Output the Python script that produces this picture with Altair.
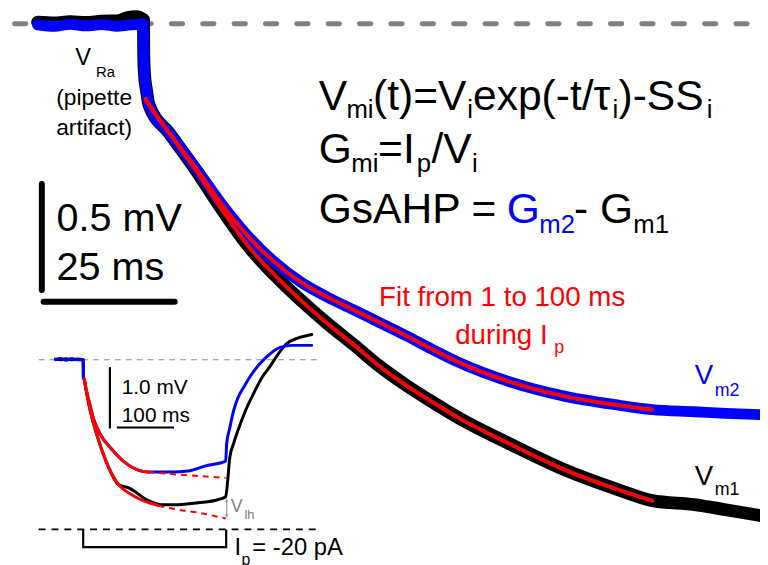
import altair as alt
import pandas as pd

# ===================== DATA =====================
# Main panel: time in ms from the step onset, voltage in mV from rest
pre_t = [-20.2, -17, -14, -11, -8, -5, -3, -1.5, 0.0]
blue_pre_v = [-0.005, -0.012, -0.002, -0.010, -0.004, -0.012, -0.006, -0.004, 0.0]
black_pre_v = [0.008, 0.004, 0.010, 0.006, 0.012, 0.014, 0.030, 0.034, 0.02]
drop_t = [0.02, 0.15, 0.6]
drop_v = [-0.12, -0.23, -0.32]
fit_t = [0.4, 1, 5, 10, 15, 20, 25, 30, 35, 40, 45, 50, 55, 60, 70, 80, 90, 97]
blue_fit_v = [-0.355, -0.38, -0.519, -0.682, -0.855, -1.005, -1.126, -1.220, -1.290,
              -1.350, -1.411, -1.472, -1.537, -1.598, -1.692, -1.757, -1.799, -1.822]
black_fit_v = [-0.355, -0.38, -0.519, -0.692, -0.879, -1.051, -1.187, -1.306, -1.414,
               -1.514, -1.617, -1.706, -1.785, -1.860, -1.986, -2.103, -2.196, -2.252]
tail_t = [105, 111, 117.5]
blue_tail_v = [-1.832, -1.840, -1.846]
black_tail_v = [-2.271, -2.295, -2.322]
ref_t = [-24.62, 118.0]
ref_v = [0.0, 0.0]

# Inset: time in ms from the onset of Ip, voltage in mV from rest
in_pre_t = [-48.4, -40, -30, -20, -10, 0.0]
in_blue_pre_v = [0.0, 0.02, -0.01, 0.02, 0.0, 0.0]
in_black_pre_v = [0.01, 0.0, 0.015, 0.0, 0.01, 0.0]
in_drop_t = [0.3]
in_drop_v = [-0.30]
in_blue_fit_t = [1.7, 5, 10.4, 19, 31.1, 48.4, 74.4, 102.1, 114.2]
in_blue_fit_v = [-0.315, -0.48, -0.685, -0.99, -1.234, -1.444, -1.685, -1.815, -1.831]
in_blue_ext_t = [114.2, 154.0, 200.7, 249.1]
in_blue_ext_v = [-1.831, -1.863, -1.895, -1.927]
in_black_fit_t = [1.7, 5, 10.4, 24.2, 39.8, 62.3, 84.8, 114.2, 131.5]
in_black_fit_v = [-0.315, -0.49, -0.750, -1.234, -1.653, -2.040, -2.202, -2.331, -2.379]
in_black_ext_t = [131.5, 166.1, 200.7, 249.1]
in_black_ext_v = [-2.379, -2.444, -2.492, -2.589]
in_blue_late_t = [154.0, 183.4, 212.8, 249.1, 250.9, 256.1, 263.0, 269.9, 282.0, 292.4,
                  308.0, 321.8, 344.3, 365.1, 399.7]
in_blue_late_v = [-1.83, -1.815, -1.734, -1.653, -1.363, -1.121, -0.831, -0.637, -0.427,
                  -0.266, -0.073, 0.056, 0.202, 0.234, 0.234]
in_black_late_t = [79.6, 114.2, 136.7, 166.1, 200.7, 235.3, 249.1, 252.6, 256.1, 263.0,
                   269.9, 283.7, 299.3, 313.1, 327.0, 344.3, 356.4, 373.7, 399.7]
in_black_late_v = [-2.089, -2.298, -2.363, -2.363, -2.331, -2.282, -2.234, -1.976, -1.605,
                   -1.363, -1.169, -0.831, -0.524, -0.282, -0.105, 0.137, 0.266, 0.347, 0.411]
in_line_t = [-77.9, 417.0]
in_rest_v = [0.0, 0.0]
in_cmd_v = [-2.766, -2.766]
ip_t = [0.0, 0.0, 250.0, 250.0]
ip_v = [-2.766, -3.056, -3.056, -2.766]
vlh_t = [250.9, 250.9]
vlh_v = [-2.29, -2.55]

# scale bars
main_vbar_t, main_vbar_v = [-19.4, -19.4], [-1.257, -0.757]      # 0.5 mV
main_hbar_t, main_hbar_v = [-19.06, 5.94], [-1.313, -1.313]      # 25 ms
in_vbar_t, in_vbar_v = [46.7, 46.7], [-1.121, -0.121]            # 1.0 mV
in_hbar_t, in_hbar_v = [58.8, 158.8], [-1.105, -1.105]           # 100 ms

BLACK, BLUE, RED, GRAY = "#000000", "#0000ff", "#ff0000", "#808080"
FONT = "Liberation Sans"

# annotations: text, t, v, size, color
main_left_text = [
    ("V", -13.02, -0.196, 24, BLACK), ("Ra", -9.06, -0.252, 15, BLACK),
    ("0.5 mV", -16.6, -0.977, 40, BLACK), ("25 ms", -16.6, -1.210, 40, BLACK),
    ("V", 33.40, -0.4065, 43, BLACK), ("mi", 38.68, -0.446, 26, BLACK),
    ("(t)=V", 43.77, -0.4065, 43, BLACK), ("i", 61.70, -0.446, 26, BLACK),
    ("exp(-t/τ", 62.83, -0.4065, 43, BLACK), ("i", 89.43, -0.446, 26, BLACK),
    (")-SS", 90.57, -0.4065, 43, BLACK), ("i", 107.4, -0.446, 26, BLACK),
    ("G", 33.40, -0.659, 43, BLACK), ("mi", 39.62, -0.701, 26, BLACK),
    ("=I", 44.72, -0.659, 43, BLACK), ("p", 52.08, -0.701, 26, BLACK),
    ("/V", 54.91, -0.659, 43, BLACK), ("i", 62.64, -0.701, 26, BLACK),
    ("GsAHP = ", 33.40, -0.939, 43, BLACK), ("G", 69.25, -0.939, 43, BLUE),
    ("m2", 75.47, -0.986, 26, BLUE), ("- G", 82.08, -0.939, 43, BLACK),
    ("m1", 93.40, -0.986, 26, BLACK),
    ("Fit from 1 to 100 ms", 44.91, -1.332, 28, RED), ("during I", 59.43, -1.514, 28, RED),
    ("p", 78.3, -1.556, 18, RED),
    ("V", 105.1, -1.701, 28, BLUE), ("m2", 108.9, -1.757, 18, BLUE),
    ("V", 105.1, -2.178, 28, BLACK), ("m1", 108.9, -2.224, 18, BLACK),
]
main_center_text = [
    ("(pipette", -9.43, -0.383, 23, BLACK), ("artifact)", -9.43, -0.523, 23, BLACK),
]
inset_text = [
    ("1.0 mV", 67.5, -0.556, 21, BLACK), ("100 ms", 67.5, -1.008, 21, BLACK),
    ("V", 257.8, -2.49, 18, GRAY), ("lh", 282.0, -2.60, 13, GRAY),
    ("I", 264.7, -3.185, 24, BLACK), ("p", 276.8, -3.35, 16, BLACK),
    ("= -20 pA", 295.8, -3.185, 24, BLACK),
]

# ===================== LAYOUT =====================
W, H = 760, 557
MAIN_X0, MAIN_KX = 145.0, 5.3
MAIN_Y0, MAIN_KY = 21.0, 214.0
INS_X0, INS_KX = 84.0, 0.578
INS_Y0, INS_KY = 360.5, 62.0


def xdom(x0, k):
    return [(8 - x0) / k, (8 + W - x0) / k]


def ydom(y0, k):
    return [(y0 - (8 + H)) / k, (y0 - 8) / k]


mx = alt.Scale(domain=xdom(MAIN_X0, MAIN_KX), nice=False, zero=False)
my = alt.Scale(domain=ydom(MAIN_Y0, MAIN_KY), nice=False, zero=False)
ix = alt.Scale(domain=xdom(INS_X0, INS_KX), nice=False, zero=False)
iy = alt.Scale(domain=ydom(INS_Y0, INS_KY), nice=False, zero=False)


def ldf(t, v):
    return pd.DataFrame({"t": t, "v": v, "i": list(range(len(t)))})


def line(t, v, xs, ys, **kw):
    kw.setdefault("strokeCap", "round")
    kw.setdefault("strokeJoin", "round")
    return alt.Chart(ldf(t, v)).mark_line(**kw).encode(
        x=alt.X("t:Q", scale=xs, axis=None),
        y=alt.Y("v:Q", scale=ys, axis=None),
        order="i:Q",
    )


def texts(rows, xs, ys, align):
    df = pd.DataFrame(rows, columns=["text", "t", "v", "size", "color"])
    return alt.Chart(df).mark_text(align=align, baseline="alphabetic", font=FONT).encode(
        x=alt.X("t:Q", scale=xs, axis=None),
        y=alt.Y("v:Q", scale=ys, axis=None),
        text="text:N",
        size=alt.Size("size:Q", scale=None),
        color=alt.Color("color:N", scale=None),
    )


blue_trace_t = pre_t + drop_t + fit_t[1:] + tail_t
blue_trace_v = blue_pre_v + drop_v + blue_fit_v[1:] + blue_tail_v
black_trace_v = black_pre_v + drop_v + black_fit_v[1:] + black_tail_v

main = alt.layer(
    line(ref_t, ref_v, mx, my, color=GRAY, strokeWidth=5, strokeDash=[11.5, 20.2]),
    line(blue_trace_t, black_trace_v, mx, my, color=BLACK, strokeWidth=13, interpolate="monotone"),
    line(blue_trace_t, blue_trace_v, mx, my, color=BLUE, strokeWidth=11, interpolate="monotone"),
    line(fit_t, black_fit_v, mx, my, color=RED, strokeWidth=4, interpolate="monotone"),
    line(fit_t, blue_fit_v, mx, my, color=RED, strokeWidth=4, interpolate="monotone"),
    line(main_vbar_t, main_vbar_v, mx, my, color=BLACK, strokeWidth=6),
    line(main_hbar_t, main_hbar_v, mx, my, color=BLACK, strokeWidth=6),
    texts(main_left_text, mx, my, "left"),
    texts(main_center_text, mx, my, "center"),
)

in_black_t = in_pre_t + in_drop_t + in_black_fit_t[:6] + in_black_late_t
in_black_v = in_black_pre_v + in_drop_v + in_black_fit_v[:6] + in_black_late_v
in_blue_t = in_pre_t + in_drop_t + in_blue_fit_t + in_blue_late_t
in_blue_v = in_blue_pre_v + in_drop_v + in_blue_fit_v + in_blue_late_v

arrow_df = pd.DataFrame({"t": vlh_t, "v": vlh_v, "shape": ["triangle-up", "triangle-down"]})
arrows = alt.Chart(arrow_df).mark_point(filled=True, size=14, color="#999999", opacity=1).encode(
    x=alt.X("t:Q", scale=ix, axis=None),
    y=alt.Y("v:Q", scale=iy, axis=None),
    shape=alt.Shape("shape:N", scale=None),
)

inset = alt.layer(
    line(in_line_t, in_rest_v, ix, iy, color="#8c8c8c", strokeWidth=1.2, strokeDash=[6, 5], strokeCap="butt"),
    line(in_line_t, in_cmd_v, ix, iy, color=BLACK, strokeWidth=1.6, strokeDash=[7, 6], strokeCap="butt"),
    line(ip_t, ip_v, ix, iy, color=BLACK, strokeWidth=2.2, strokeCap="butt", strokeJoin="miter"),
    line(in_black_t, in_black_v, ix, iy, color=BLACK, strokeWidth=3, interpolate="monotone"),
    line(in_blue_t, in_blue_v, ix, iy, color=BLUE, strokeWidth=3, interpolate="monotone"),
    line(in_blue_fit_t, in_blue_fit_v, ix, iy, color=RED, strokeWidth=3, interpolate="monotone"),
    line(in_black_fit_t, in_black_fit_v, ix, iy, color=RED, strokeWidth=3, interpolate="monotone"),
    line(in_blue_ext_t, in_blue_ext_v, ix, iy, color=RED, strokeWidth=2, strokeDash=[6, 5],
         strokeCap="butt", interpolate="monotone"),
    line(in_black_ext_t, in_black_ext_v, ix, iy, color=RED, strokeWidth=2, strokeDash=[6, 5],
         strokeCap="butt", interpolate="monotone"),
    line(in_vbar_t, in_vbar_v, ix, iy, color=BLACK, strokeWidth=2.2, strokeCap="butt"),
    line(in_hbar_t, in_hbar_v, ix, iy, color=BLACK, strokeWidth=2.2, strokeCap="butt"),
    line(vlh_t, vlh_v, ix, iy, color="#999999", strokeWidth=1.2, strokeCap="butt"),
    arrows,
    texts(inset_text, ix, iy, "left"),
)

chart = alt.layer(inset, main).resolve_scale(x="independent", y="independent").properties(
    width=W, height=H, padding=0, autosize="none", background="white"
).configure_view(stroke=None)

chart.save("out.html", embed_options={"renderer": "svg", "actions": False})
